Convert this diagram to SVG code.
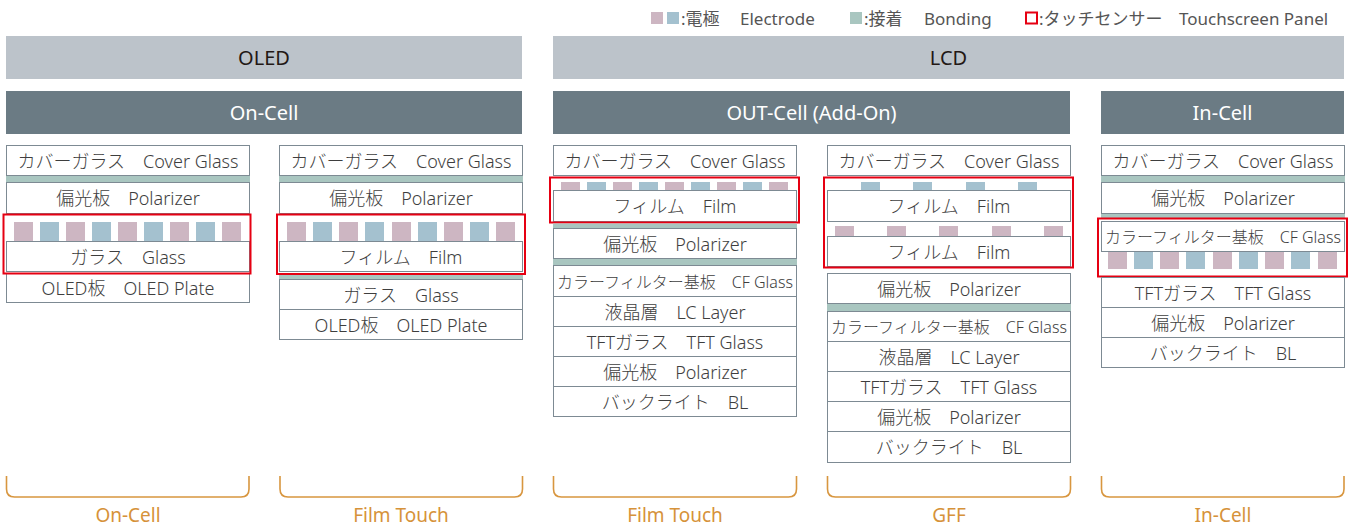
<svg xmlns="http://www.w3.org/2000/svg" width="1349" height="527" viewBox="0 0 1349 527">
<style>
.bg{fill:#fff}
.box{fill:#fff;stroke:#7d8a93;stroke-width:1}
.bond{fill:#a9c6c0}
.ep{fill:#cdb6c2}
.eb{fill:#a4c1cf}
.tp{fill:none;stroke:#e60012;stroke-width:2}
.h1{fill:#bcc3ca}
.h2{fill:#6b7b84}
.t{font-family:"Noto Sans","Noto Sans CJK JP",sans-serif;font-size:18px;fill:#3e3e3e;text-anchor:middle;font-weight:300}
.ts{font-size:16px}
.ht{font-family:"Noto Sans","Noto Sans CJK JP",sans-serif;font-size:20px;text-anchor:middle}
.dark{fill:#231815}
.white{fill:#fff}
.lg{font-family:"Noto Sans","Noto Sans CJK JP",sans-serif;font-size:17px;fill:#555}
.br{fill:none;stroke:#d8963f;stroke-width:1.6}
.bl{font-family:"Noto Sans","Noto Sans CJK JP",sans-serif;font-size:19px;fill:#d6923a;text-anchor:middle}
</style>
<rect class="bg" x="0" y="0" width="1349" height="527"/>

<g id="legend">
  <rect class="ep" x="651" y="12" width="12" height="12"/>
  <rect class="eb" x="667" y="12" width="12" height="12"/>
  <text class="lg" x="681" y="24.5">:電極</text>
  <text class="lg" x="740" y="24.5">Electrode</text>
  <rect class="bond" x="850" y="12" width="12" height="12"/>
  <text class="lg" x="864" y="24.5">:接着</text>
  <text class="lg" x="924" y="24.5">Bonding</text>
  <rect class="tp" x="1026" y="12.5" width="11" height="11"/>
  <text class="lg" x="1039" y="24.5">:タッチセンサー</text>
  <text class="lg" x="1179" y="24.5">Touchscreen Panel</text>
</g>

<g id="header-oled">
  <rect class="h1" x="6" y="36" width="516" height="43"/>
  <text class="ht dark" x="264" y="64.5">OLED</text>
</g>
<g id="header-lcd">
  <rect class="h1" x="553" y="36" width="791" height="43"/>
  <text class="ht dark" x="948.5" y="64.5">LCD</text>
</g>
<g id="header-oncell">
  <rect class="h2" x="6" y="91" width="516" height="43"/>
  <text class="ht white" x="264" y="119.5">On-Cell</text>
</g>
<g id="header-outcell">
  <rect class="h2" x="553" y="91" width="517" height="43"/>
  <text class="ht white" x="811.5" y="119.5">OUT-Cell (Add-On)</text>
</g>
<g id="header-incell">
  <rect class="h2" x="1101" y="91" width="243" height="43"/>
  <text class="ht white" x="1222.5" y="119.5">In-Cell</text>
</g>

<!-- Column 1: OLED On-Cell -->
<g id="col1-oncell">
  <rect class="box" x="6.5" y="145.5" width="243" height="30"/>
  <text class="t" x="128" y="167.5">カバーガラス　Cover Glass</text>
  <rect class="bond" x="6" y="176" width="244" height="6"/>
  <rect class="box" x="6.5" y="182.5" width="243" height="31"/>
  <text class="t" x="128" y="205">偏光板　Polarizer</text>
  <rect class="ep" x="14" y="222" width="19" height="19"/>
  <rect class="eb" x="40" y="222" width="19" height="19"/>
  <rect class="ep" x="66" y="222" width="19" height="19"/>
  <rect class="eb" x="92" y="222" width="19" height="19"/>
  <rect class="ep" x="118" y="222" width="19" height="19"/>
  <rect class="eb" x="144" y="222" width="19" height="19"/>
  <rect class="ep" x="170" y="222" width="19" height="19"/>
  <rect class="eb" x="196" y="222" width="19" height="19"/>
  <rect class="ep" x="222" y="222" width="19" height="19"/>
  <rect class="box" x="6.5" y="241.5" width="243" height="30"/>
  <text class="t" x="128" y="263.5">ガラス　Glass</text>
  <rect class="box" x="6.5" y="273.5" width="243" height="29"/>
  <text class="t" x="128" y="295">OLED板　OLED Plate</text>
  <rect class="tp" x="3.5" y="214.5" width="247" height="59"/>
</g>

<!-- Column 2: OLED Film Touch -->
<g id="col2-filmtouch">
  <rect class="box" x="279.5" y="145.5" width="243" height="30"/>
  <text class="t" x="401" y="167.5">カバーガラス　Cover Glass</text>
  <rect class="bond" x="279" y="176" width="244" height="6"/>
  <rect class="box" x="279.5" y="182.5" width="243" height="31"/>
  <text class="t" x="401" y="205">偏光板　Polarizer</text>
  <rect class="ep" x="287" y="222" width="19" height="19"/>
  <rect class="eb" x="313" y="222" width="19" height="19"/>
  <rect class="ep" x="339" y="222" width="19" height="19"/>
  <rect class="eb" x="365" y="222" width="19" height="19"/>
  <rect class="ep" x="392" y="222" width="19" height="19"/>
  <rect class="eb" x="418" y="222" width="19" height="19"/>
  <rect class="ep" x="444" y="222" width="19" height="19"/>
  <rect class="eb" x="470" y="222" width="19" height="19"/>
  <rect class="ep" x="496" y="222" width="19" height="19"/>
  <rect class="box" x="279.5" y="241.5" width="243" height="30"/>
  <text class="t" x="401" y="263.5">フィルム　Film</text>
  <rect class="bond" x="279" y="275" width="244" height="5"/>
  <rect class="box" x="279.5" y="279.5" width="243" height="30"/>
  <text class="t" x="401" y="301.5">ガラス　Glass</text>
  <rect class="box" x="279.5" y="309.5" width="243" height="30"/>
  <text class="t" x="401" y="331.5">OLED板　OLED Plate</text>
  <rect class="tp" x="277" y="214.5" width="248" height="59.5"/>
</g>

<!-- Column 3: LCD Out-Cell Film Touch -->
<g id="col3-filmtouch">
  <rect class="box" x="553.5" y="145.5" width="243" height="30"/>
  <text class="t" x="675" y="167.5">カバーガラス　Cover Glass</text>
  <rect class="ep" x="561" y="182" width="19" height="8"/>
  <rect class="eb" x="587" y="182" width="19" height="8"/>
  <rect class="ep" x="613" y="182" width="19" height="8"/>
  <rect class="eb" x="639" y="182" width="19" height="8"/>
  <rect class="ep" x="665" y="182" width="19" height="8"/>
  <rect class="eb" x="691" y="182" width="19" height="8"/>
  <rect class="ep" x="717" y="182" width="19" height="8"/>
  <rect class="eb" x="743" y="182" width="19" height="8"/>
  <rect class="ep" x="769" y="182" width="19" height="8"/>
  <rect class="box" x="553.5" y="190.5" width="243" height="31"/>
  <text class="t" x="675" y="213">フィルム　Film</text>
  <rect class="tp" x="550" y="177.5" width="249" height="45"/>
  <rect class="bond" x="553" y="223.5" width="244" height="5"/>
  <rect class="box" x="553.5" y="228.5" width="243" height="30"/>
  <text class="t" x="675" y="250.5">偏光板　Polarizer</text>
  <rect class="bond" x="553" y="259" width="244" height="6.5"/>
  <rect class="box" x="553.5" y="265.5" width="243" height="31"/>
  <text class="t ts" x="675" y="287.5">カラーフィルター基板　CF Glass</text>
  <rect class="box" x="553.5" y="296.5" width="243" height="30"/>
  <text class="t" x="675" y="318.5">液晶層　LC Layer</text>
  <rect class="box" x="553.5" y="326.5" width="243" height="30"/>
  <text class="t" x="675" y="348.5">TFTガラス　TFT Glass</text>
  <rect class="box" x="553.5" y="356.5" width="243" height="30"/>
  <text class="t" x="675" y="378.5">偏光板　Polarizer</text>
  <rect class="box" x="553.5" y="386.5" width="243" height="30"/>
  <text class="t" x="675" y="408.5">バックライト　BL</text>
</g>

<!-- Column 4: LCD Out-Cell GFF -->
<g id="col4-gff">
  <rect class="box" x="827.5" y="145.5" width="243" height="30"/>
  <text class="t" x="949" y="167.5">カバーガラス　Cover Glass</text>
  <rect class="eb" x="861" y="182" width="19" height="8"/>
  <rect class="eb" x="913" y="182" width="19" height="8"/>
  <rect class="eb" x="966" y="182" width="19" height="8"/>
  <rect class="eb" x="1018" y="182" width="19" height="8"/>
  <rect class="box" x="827.5" y="190.5" width="243" height="31"/>
  <text class="t" x="949" y="213">フィルム　Film</text>
  <rect class="ep" x="835" y="226" width="19" height="10"/>
  <rect class="ep" x="887" y="226" width="19" height="10"/>
  <rect class="ep" x="939" y="226" width="19" height="10"/>
  <rect class="ep" x="992" y="226" width="19" height="10"/>
  <rect class="ep" x="1044" y="226" width="19" height="10"/>
  <rect class="box" x="827.5" y="236.5" width="243" height="30"/>
  <text class="t" x="949" y="258.5">フィルム　Film</text>
  <rect class="tp" x="824" y="177.5" width="249" height="90"/>
  <rect class="box" x="827.5" y="273.5" width="243" height="30"/>
  <text class="t" x="949" y="295.5">偏光板　Polarizer</text>
  <rect class="bond" x="827" y="304" width="244" height="7.5"/>
  <rect class="box" x="827.5" y="311.5" width="243" height="30"/>
  <text class="t ts" x="949" y="333">カラーフィルター基板　CF Glass</text>
  <rect class="box" x="827.5" y="341.5" width="243" height="30"/>
  <text class="t" x="949" y="363.5">液晶層　LC Layer</text>
  <rect class="box" x="827.5" y="371.5" width="243" height="30"/>
  <text class="t" x="949" y="393.5">TFTガラス　TFT Glass</text>
  <rect class="box" x="827.5" y="401.5" width="243" height="30"/>
  <text class="t" x="949" y="423.5">偏光板　Polarizer</text>
  <rect class="box" x="827.5" y="431.5" width="243" height="31"/>
  <text class="t" x="949" y="454">バックライト　BL</text>
</g>

<!-- Column 5: LCD In-Cell -->
<g id="col5-incell">
  <rect class="box" x="1101.5" y="145.5" width="243" height="30"/>
  <text class="t" x="1223" y="167.5">カバーガラス　Cover Glass</text>
  <rect class="bond" x="1101" y="176" width="244" height="6"/>
  <rect class="box" x="1101.5" y="182.5" width="243" height="31"/>
  <text class="t" x="1223" y="205">偏光板　Polarizer</text>
  <rect class="bond" x="1101" y="214" width="244" height="4"/>
  <rect class="box" x="1101.5" y="221.5" width="243" height="30"/>
  <text class="t ts" x="1223" y="243">カラーフィルター基板　CF Glass</text>
  <rect class="ep" x="1108" y="252" width="19" height="17"/>
  <rect class="eb" x="1134" y="252" width="19" height="17"/>
  <rect class="ep" x="1160" y="252" width="19" height="17"/>
  <rect class="eb" x="1186" y="252" width="19" height="17"/>
  <rect class="ep" x="1213" y="252" width="19" height="17"/>
  <rect class="eb" x="1239" y="252" width="19" height="17"/>
  <rect class="ep" x="1265" y="252" width="19" height="17"/>
  <rect class="eb" x="1291" y="252" width="19" height="17"/>
  <rect class="ep" x="1318" y="252" width="19" height="17"/>
  <rect class="tp" x="1098" y="218.5" width="249" height="58"/>
  <rect class="box" x="1101.5" y="277.5" width="243" height="30"/>
  <text class="t" x="1223" y="299.5">TFTガラス　TFT Glass</text>
  <rect class="box" x="1101.5" y="307.5" width="243" height="30"/>
  <text class="t" x="1223" y="329.5">偏光板　Polarizer</text>
  <rect class="box" x="1101.5" y="337.5" width="243" height="30"/>
  <text class="t" x="1223" y="359.5">バックライト　BL</text>
</g>

<g id="brackets">
  <path class="br" d="M6.5,476 V489 Q6.5,497 14.5,497 H241 Q249,497 249,489 V476"/>
  <text class="bl" x="128" y="521.5">On-Cell</text>
  <path class="br" d="M280,476 V489 Q280,497 288,497 H514.5 Q522.5,497 522.5,489 V476"/>
  <text class="bl" x="401" y="521.5">Film Touch</text>
  <path class="br" d="M553.5,476 V489 Q553.5,497 561.5,497 H788.5 Q796.5,497 796.5,489 V476"/>
  <text class="bl" x="675" y="521.5">Film Touch</text>
  <path class="br" d="M827.5,476 V489 Q827.5,497 835.5,497 H1062.5 Q1070.5,497 1070.5,489 V476"/>
  <text class="bl" x="949" y="521.5">GFF</text>
  <path class="br" d="M1101.5,476 V489 Q1101.5,497 1109.5,497 H1336 Q1344,497 1344,489 V476"/>
  <text class="bl" x="1223" y="521.5">In-Cell</text>
</g>
</svg>
